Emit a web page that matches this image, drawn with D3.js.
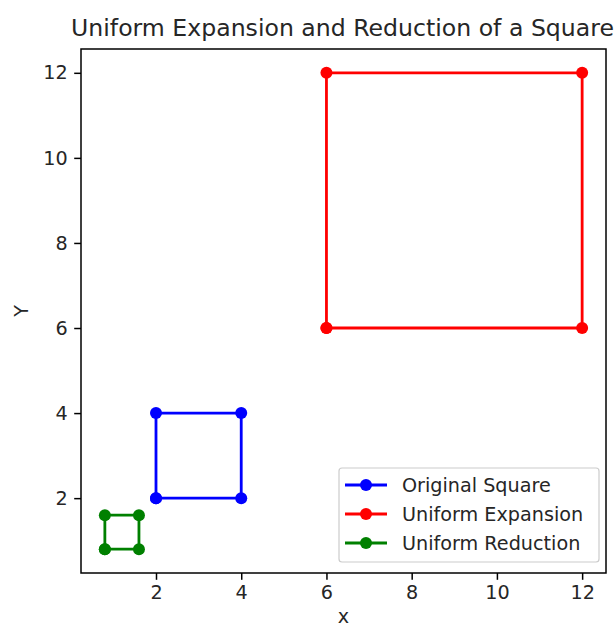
<!DOCTYPE html>
<html>
<head>
<meta charset="utf-8">
<script src="https://cdn.jsdelivr.net/npm/d3@7"></script>
<style>
  body { margin: 0; background: #fff; }
  text { font-family: "DejaVu Sans", sans-serif; fill: #262626; }
</style>
</head>
<body>
<svg id="chart" width="614" height="627"></svg>
<script>
const seriesNames = ["Original Square", "Uniform Expansion", "Uniform Reduction"];
const seriesColors = ["#0000ff", "#ff0000", "#008000"];
const originalX = [2, 4, 4, 2, 2];
const originalY = [2, 2, 4, 4, 2];
const expansionX = [6, 12, 12, 6, 6];
const expansionY = [6, 6, 12, 12, 6];
const reductionX = [0.8, 1.6, 1.6, 0.8, 0.8];
const reductionY = [0.8, 0.8, 1.6, 1.6, 0.8];
const xTicks = [2, 4, 6, 8, 10, 12];
const yTicks = [2, 4, 6, 8, 10, 12];

const seriesX = [originalX, expansionX, reductionX];
const seriesY = [originalY, expansionY, reductionY];

const svg = d3.select("#chart");
const L = 81, R = 606, T = 49, B = 573;
const x = d3.scaleLinear().domain([0.24, 12.56]).range([L, R]);
const y = d3.scaleLinear().domain([0.24, 12.56]).range([B, T]);

const FS = 19.2;

// axes
const xAxis = svg.append("g").attr("transform", `translate(0,${B})`)
  .call(d3.axisBottom(x).tickValues(xTicks).tickSize(6.8).tickPadding(6).tickFormat(d3.format("d")));
const yAxis = svg.append("g").attr("transform", `translate(${L},0)`)
  .call(d3.axisLeft(y).tickValues(yTicks).tickSize(6.8).tickPadding(6.5).tickFormat(d3.format("d")));
[xAxis, yAxis].forEach(g => {
  g.select(".domain").remove();
  g.selectAll(".tick line").attr("stroke", "#000").attr("stroke-width", 1.5);
  g.selectAll(".tick text").attr("font-size", FS).attr("font-family", "DejaVu Sans").attr("fill", "#262626");
});

// data lines
const line = d3.line().x(d => x(d[0])).y(d => y(d[1]));
seriesNames.forEach((name, i) => {
  const pts = seriesX[i].map((v, j) => [v, seriesY[i][j]]);
  const g = svg.append("g");
  g.append("path").attr("d", line(pts)).attr("fill", "none")
    .attr("stroke", seriesColors[i]).attr("stroke-width", 2.8).attr("stroke-linejoin", "round");
  g.selectAll("circle").data(pts).join("circle")
    .attr("cx", d => x(d[0])).attr("cy", d => y(d[1])).attr("r", 6)
    .attr("fill", seriesColors[i]);
});

// frame
svg.append("rect").attr("x", L).attr("y", T).attr("width", R - L).attr("height", B - T)
  .attr("fill", "none").attr("stroke", "#000").attr("stroke-width", 1.5);

// title & labels
svg.append("text").attr("x", (L + R) / 2 - 1).attr("y", 36).attr("text-anchor", "middle")
  .attr("font-size", 23.6).text("Uniform Expansion and Reduction of a Square");
svg.append("text").attr("x", (L + R) / 2).attr("y", 623).attr("text-anchor", "middle")
  .attr("font-size", FS).text("x");
svg.append("text").attr("transform", `translate(28,${(T + B) / 2}) rotate(-90)`)
  .attr("text-anchor", "middle").attr("font-size", FS).text("Y");

// legend
const lg = svg.append("g");
lg.append("rect").attr("x", 339).attr("y", 468).attr("width", 260).attr("height", 94)
  .attr("rx", 3).attr("fill", "#fff").attr("fill-opacity", 0.8)
  .attr("stroke", "#cccccc").attr("stroke-width", 1.2);
seriesNames.forEach((name, i) => {
  const cy = 485 + i * 29;
  lg.append("line").attr("x1", 345).attr("x2", 387).attr("y1", cy).attr("y2", cy)
    .attr("stroke", seriesColors[i]).attr("stroke-width", 2.8);
  lg.append("circle").attr("cx", 366).attr("cy", cy).attr("r", 6).attr("fill", seriesColors[i]);
  lg.append("text").attr("x", 402).attr("y", cy).attr("dy", "0.35em")
    .attr("font-size", FS).text(name);
});
</script>
</body>
</html>
